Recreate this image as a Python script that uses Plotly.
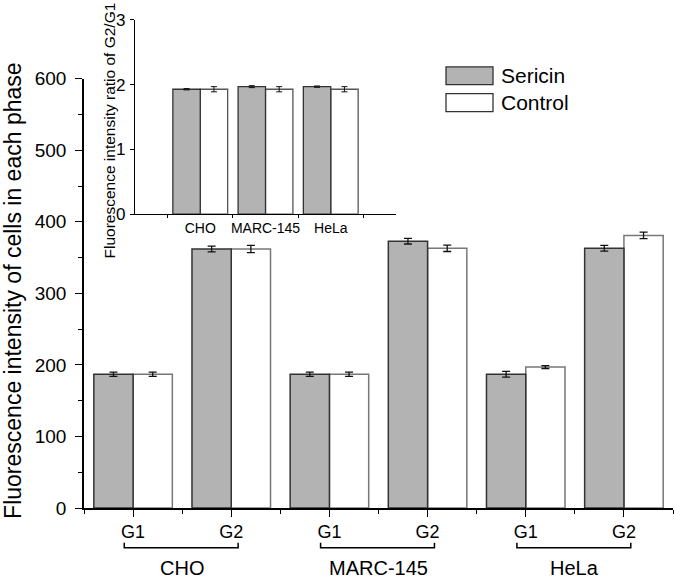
import plotly.graph_objects as go

# main chart: fluorescence per phase
phases = ["G1", "G2", "G1", "G2", "G1", "G2"]
cell_lines = ["CHO", "MARC-145", "HeLa"]
sericin = [187, 362, 187, 373, 187, 363]
sericin_err = [3, 4, 3, 4, 4, 4]
control = [187, 362, 187, 363, 197, 381]
control_err = [3, 5, 3, 4.5, 2, 4.5]

# inset: G2/G1 ratio
ratio_sericin = [1.93, 1.97, 1.97]
ratio_sericin_err = [0.01, 0.015, 0.01]
ratio_control = [1.93, 1.93, 1.93]
ratio_control_err = [0.04, 0.04, 0.04]

W, H = 675, 579
L, R, T, B = 84, 2, 10, 71
PW, PH = W - L - R, H - T - B
FONT = "Liberation Sans, Arial, sans-serif"
GRAY = "#b3b3b3"


def px(x):
    return (x - L) / PW


def py(y):
    return (H - B - y) / PH


fig = go.Figure()
xs = list(range(len(phases)))
ix = list(range(len(cell_lines)))

# control first so the darker sericin outline sits on the shared edge
fig.add_trace(go.Bar(x=xs, y=control, width=0.4, offset=0.0,
                     marker=dict(color="white", line=dict(color="#777", width=1.5)),
                     error_y=dict(type="data", array=control_err, color="#111", thickness=1.3, width=4)))
fig.add_trace(go.Bar(x=xs, y=sericin, width=0.4, offset=-0.4,
                     marker=dict(color=GRAY, line=dict(color="#333", width=1.5)),
                     error_y=dict(type="data", array=sericin_err, color="#111", thickness=1.3, width=4)))

fig.add_trace(go.Bar(x=ix, y=ratio_control, width=0.42, offset=0.0, xaxis="x2", yaxis="y2",
                     marker=dict(color="white", line=dict(color="#555", width=1.3)),
                     error_y=dict(type="data", array=ratio_control_err, color="#111", thickness=1, width=3)))
fig.add_trace(go.Bar(x=ix, y=ratio_sericin, width=0.42, offset=-0.42, xaxis="x2", yaxis="y2",
                     marker=dict(color=GRAY, line=dict(color="#333", width=1.3)),
                     error_y=dict(type="data", array=ratio_sericin_err, color="#111", thickness=1, width=3)))

axis_common = dict(showline=True, linecolor="black", linewidth=1.5, showgrid=False,
                   zeroline=False, ticks="outside", tickcolor="black", tickwidth=1.3)

fig.update_layout(
    width=W, height=H,
    margin=dict(l=L, r=R, t=T, b=B),
    barmode="overlay",
    showlegend=False,
    paper_bgcolor="white", plot_bgcolor="white",
    font=dict(family=FONT, color="black"),
    xaxis=dict(axis_common, range=[-0.5, 5.5], domain=[0, 1],
               tickvals=xs, ticktext=phases, ticklen=7,
               tickfont=dict(size=18), ticklabelstandoff=0,
               minor=dict(tickvals=[i - 0.5 for i in range(len(phases) + 1)],
                          ticks="outside", ticklen=4, tickcolor="black", tickwidth=1.3)),
    yaxis=dict(axis_common, range=[0, 600], domain=[0, py(77)],
               tickvals=[0, 100, 200, 300, 400, 500, 600], ticklen=7,
               tickfont=dict(size=19), ticklabelstandoff=5,
               minor=dict(dtick=50, ticks="outside", ticklen=4, tickcolor="black", tickwidth=1.3)),
    xaxis2=dict(axis_common, anchor="y2", range=[-1, 3], domain=[px(135), px(396)],
                tickvals=ix, ticktext=cell_lines, ticklen=0, linewidth=1.3,
                tickfont=dict(size=14), ticklabelstandoff=1,
                minor=dict(tickvals=[-0.5, 0.5, 1.5, 2.5], ticks="outside", ticklen=3,
                           tickcolor="black", tickwidth=1)),
    yaxis2=dict(axis_common, anchor="x2", range=[0, 3], domain=[py(213), py(18)],
                tickvals=[0, 1, 2, 3], ticklen=4, linewidth=1.3,
                tickfont=dict(size=17), ticklabelstandoff=1),
)

annotations = [
    dict(text="Fluorescence intensity of cells in each phase", x=px(13), y=py(290),
         xref="paper", yref="paper", textangle=-90, showarrow=False,
         font=dict(size=23), xanchor="center", yanchor="middle"),
    dict(text="Fluorescence intensity ratio of G2/G1", x=px(110), y=py(129),
         xref="paper", yref="paper", textangle=-90, showarrow=False,
         font=dict(size=15.5), xanchor="center", yanchor="middle"),
]
shapes = []

# group brackets and cell line labels under each G1/G2 pair
for i, name in enumerate(cell_lines):
    x0, x1 = 2 * i - 0.09, 2 * i + 1.07
    y_line, y_end = py(548), py(543)
    shapes.append(dict(type="path", xref="x", yref="paper",
                       path=f"M {x0},{y_end} L {x0},{y_line} L {x1},{y_line} L {x1},{y_end}",
                       line=dict(color="black", width=1.5)))
    annotations.append(dict(text=name, x=2 * i + 0.5, y=py(568), xref="x", yref="paper",
                            showarrow=False, font=dict(size=20),
                            xanchor="center", yanchor="middle"))

# hand-made legend with wide swatches
for label, fill, line, top in [("Sericin", GRAY, "#333", 65), ("Control", "white", "#333", 92)]:
    shapes.append(dict(type="rect", xref="paper", yref="paper",
                       x0=px(446), x1=px(493), y0=py(top + 18), y1=py(top),
                       fillcolor=fill, line=dict(color=line, width=1.3)))
    annotations.append(dict(text=label, x=px(499), y=py(top + 9), xref="paper", yref="paper",
                            showarrow=False, font=dict(size=21),
                            xanchor="left", yanchor="middle"))

fig.update_layout(annotations=annotations, shapes=shapes)

# the page has a default body margin; drop it so the figure fills the window
fig.write_html("out.html", config={"displayModeBar": False},
               post_script="document.body.style.margin='0';")
